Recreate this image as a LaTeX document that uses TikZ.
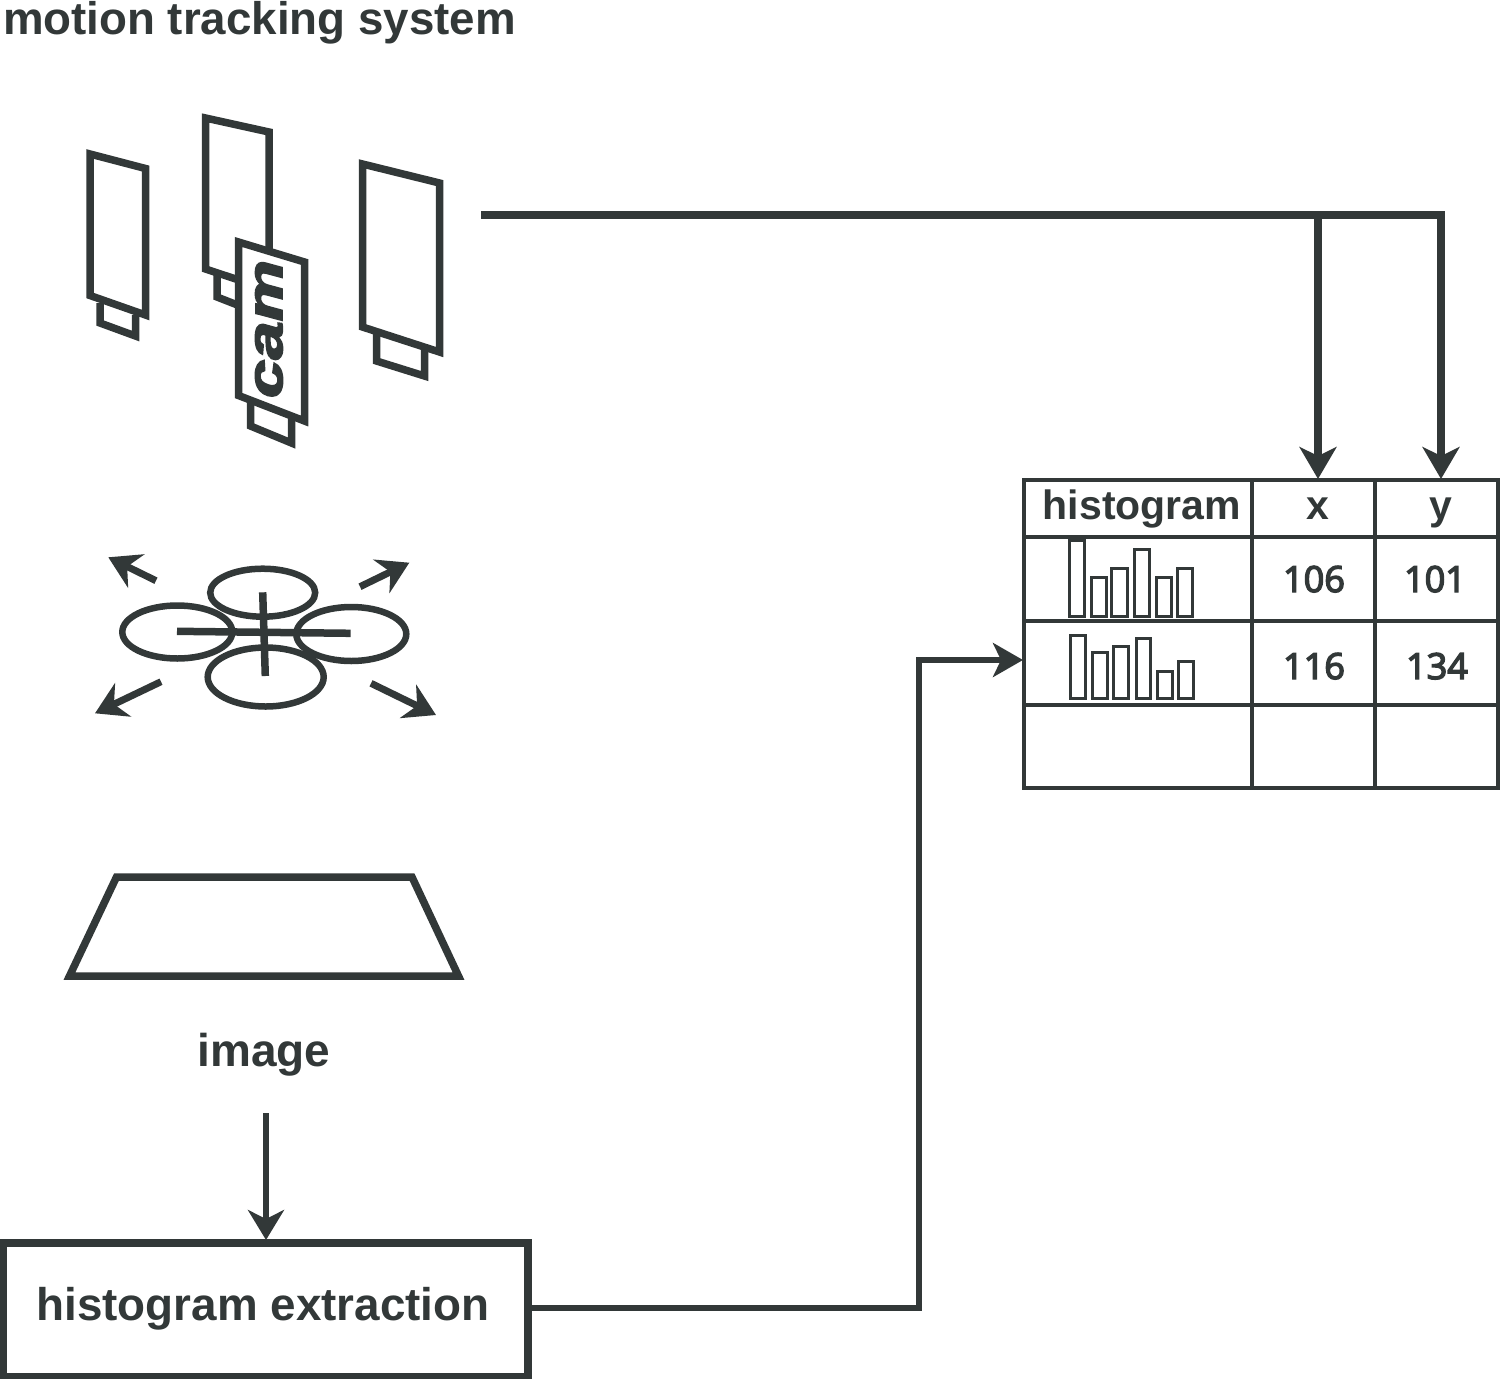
\documentclass[tikz,border=0pt]{standalone}
\usepackage{fontspec}
\setmainfont{Liberation Sans}
\newfontfamily\numfont[FakeBold=4]{Open Sans}
\newfontfamily\camfont[FakeBold=3]{Liberation Sans Bold Italic}
\usetikzlibrary{arrows.meta}
\definecolor{ink}{RGB}{50,56,56}
\newcommand{\fsz}[1]{\fontsize{#1}{#1}\selectfont}
\tikzset{
  outline/.style={draw=ink,line width=7.5pt,miter limit=10},
  camfill/.style={outline,fill=white},
  rotor/.style={draw=ink,line width=6.5pt},
  cross/.style={draw=ink,line width=7.5pt},
  motion/.style={draw=ink,line width=7pt,-{Stealth[length=31pt,width=37pt,inset=10pt]}},
  flow/.style={draw=ink,line width=7.5pt,-{Stealth[length=32pt,width=37pt,inset=9pt]}},
  thinflow/.style={draw=ink,line width=6.5pt,-{Stealth[length=30pt,width=36pt,inset=9pt]}},
  gridline/.style={draw=ink,line width=4pt},
  bar/.style={draw=ink,line width=3pt},
  label/.style={text=ink,font=\bfseries,inner sep=0pt,outer sep=0pt,anchor=base},
  numlabel/.style={text=ink,inner sep=0pt,outer sep=0pt,anchor=base,font=\numfont\fsz{36}},
}
\begin{document}
\begin{tikzpicture}[x=1pt,y=-1pt]
\useasboundingbox (0,0) rectangle (1500,1379);
% title
\node[label,anchor=base west] (title) at (3,34) {\fsz{45.7}motion tracking system};
% cameras
\draw[outline] (90,154) -- (145.5,168.5) -- (145.5,315) -- (90,295.5) -- cycle;
\draw[outline] (100,303) -- (100,323) -- (135.5,336) -- (135.5,315);
\draw[outline] (205.5,118) -- (269,132) -- (269,290) -- (205.5,269) -- cycle;
\draw[outline] (217,275) -- (217,297) -- (240,306);
\draw[camfill] (238.5,242) -- (304.5,262) -- (304.5,421) -- (238.5,395.5) -- cycle;
\draw[outline] (250.5,402) -- (250.5,426) -- (291.5,443) -- (291.5,417);
\node[rotate=90,text=ink,inner sep=0pt] (camtext) at (269,329) {\fsz{50}\scalebox{1.38}[1]{\camfont cam}};
\draw[outline] (362.5,164) -- (439.5,183) -- (439.5,352) -- (362.5,327) -- cycle;
\draw[outline] (376.5,334) -- (376.5,361) -- (424.5,376) -- (424.5,350);
% drone
\draw[rotor] (262.7,592.7) ellipse [x radius=52.5,y radius=24];
\draw[rotor] (177.3,632) ellipse [x radius=55,y radius=26.5];
\draw[rotor] (351.3,634) ellipse [x radius=55,y radius=27];
\draw[rotor] (265.7,677) ellipse [x radius=58,y radius=29.5];
\draw[cross] (177,631.3) -- (350.7,633.3);
\draw[cross] (262.7,592.3) -- (265.3,676);
\coordinate (m1a) at (156,580.7); \coordinate (m1b) at (108.3,557.3);
\coordinate (m2a) at (360,586.7); \coordinate (m2b) at (409.3,562.7);
\coordinate (m3a) at (161,681.7); \coordinate (m3b) at (95,713.3);
\coordinate (m4a) at (371,683.3); \coordinate (m4b) at (436,715);
\draw[motion] (m1a) -- (m1b);
\draw[motion] (m2a) -- (m2b);
\draw[motion] (m3a) -- (m3b);
\draw[motion] (m4a) -- (m4b);
% image
\draw[outline] (116.5,877) -- (412,877) -- (458.5,976) -- (69.5,976) -- cycle;
\node[label] (imagelabel) at (264,1066) {\fsz{46}image};
% extraction box
\node[draw=ink,line width=8pt,minimum width=525pt,minimum height=134pt,inner sep=0pt,outer sep=0pt] (extract) at (265.5,1309.5) {};
\node[label] (extracttext) at (263,1320) {\fsz{45.8}histogram extraction};
% table grid
\node[draw=ink,line width=4pt,minimum width=474.3pt,minimum height=308.6pt,inner sep=0pt,outer sep=0pt] (tbl) at (1261.2,634) {};
\draw[gridline] (1252,479.7) -- (1252,788.3);
\draw[gridline] (1375,479.7) -- (1375,788.3);
\draw[gridline] (1024,536.7) -- (1498.3,536.7);
\draw[gridline] (1024,620.7) -- (1498.3,620.7);
\draw[gridline] (1024,705) -- (1498.3,705);
\node[label] (thist) at (1142,519) {\fsz{41}histogram};
\node[label] (tx) at (1318,519) {\fsz{41}x};
\node[label] (ty) at (1440.5,519) {\fsz{41}y};
\node[numlabel] (n106) at (1314,592) {106};
\node[numlabel] (n101) at (1435,592) {101};
\node[numlabel] (n116) at (1314,679) {116};
\node[numlabel] (n134) at (1437,679) {134};
% histograms
\foreach \a/\b/\t in {1069.3/1084/540.7,1091/1106/577.7,1111.7/1127/568,1134.3/1149.3/549.3,1156.7/1171.7/577.7,1177.3/1192.7/568}
  \draw[bar] (\a,\t) rectangle (\b,616.7);
\foreach \a/\b/\t in {1070.3/1085.3/635,1092/1107.3/652,1113.3/1128.3/646.7,1136/1150.7/638.3,1157.7/1172.7/671.7,1178.7/1193.7/661}
  \draw[bar] (\a,\t) rectangle (\b,698.3);
% connectors
\coordinate (camout) at (481,215);
\coordinate (busx) at (1318,215);
\coordinate (busy) at (1441,215);
\coordinate (xin) at (1318,479);
\coordinate (yin) at (1441,479);
\draw[flow] (camout) -- (busy) -- (yin);
\draw[flow] (busx) -- (xin);
\coordinate (imgout) at (266,1113);
\coordinate (extin) at (266,1240);
\draw[thinflow] (imgout) -- (extin);
\coordinate (tblin) at (1023,660);
\draw[draw=ink,line width=6.5pt,-{Stealth[length=30pt,width=34pt,inset=8pt]}] (extract.east |- 0,1308) -- (919,1308) -- (919,660) -- (tblin);
\end{tikzpicture}
\end{document}
